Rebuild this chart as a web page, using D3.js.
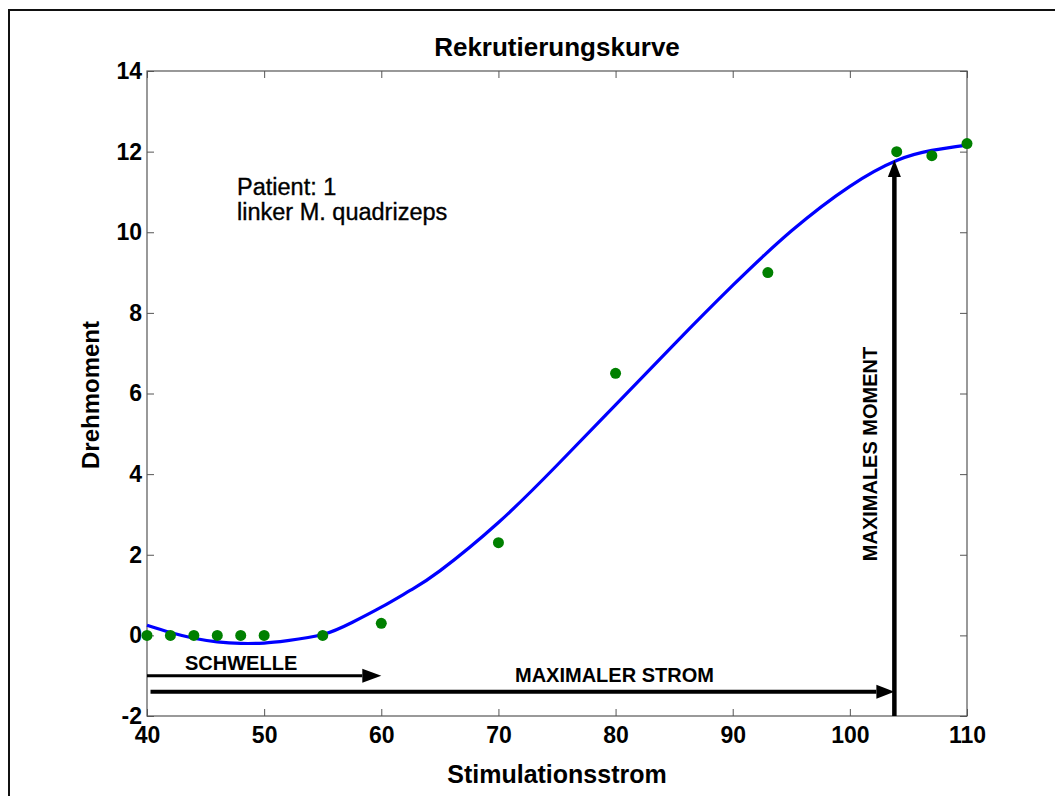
<!DOCTYPE html>
<html>
<head>
<meta charset="utf-8">
<script src="https://cdn.jsdelivr.net/npm/d3@7"></script>
<style>
  html, body { margin: 0; padding: 0; background: #fff; }
  svg { display: block; font-family: Arial, "Liberation Sans", Helvetica, sans-serif; }
</style>
</head>
<body>
<svg id="chart" width="1055" height="796"></svg>
<script>
// Measured stimulation currents and resulting torque
const stimX = [40, 42, 44, 46, 48, 50, 55, 60, 70, 80, 93, 104, 107, 110];
const torqueY = [0, 0, 0, 0, 0, 0, 0, 0.3, 2.3, 6.5, 9, 12, 11.9, 12.2];

// Fitted recruitment curve
const fitX = [40, 42, 44, 46, 48, 50, 52, 55, 57.5, 60, 62.5, 65, 70, 75, 80, 85, 90, 95, 100, 104, 107, 110];
const fitY = [0.25, 0.07, -0.07, -0.16, -0.2, -0.19, -0.13, 0.02, 0.32, 0.7, 1.12, 1.6, 2.8, 4.22, 5.72, 7.22, 8.68, 10.03, 11.14, 11.78, 12.03, 12.16];

// Axis ticks
const xTicks = [40, 50, 60, 70, 80, 90, 100, 110];
const yTicks = [-2, 0, 2, 4, 6, 8, 10, 12, 14];

// Annotation arrows: threshold, max current, max moment
const threshold = { x0: 40, x1: 60, y: -1 };
const maxCurrent = { x0: 40.3, x1: 103.8, y: -1.4 };
const maxMoment = { x: 103.8, y0: -2, y1: 11.79 };

const svg = d3.select("#chart");
const W = 1055, H = 796;
const m = { left: 147, top: 71, right: 967, bottom: 716 };

svg.append("rect").attr("width", W).attr("height", H).attr("fill", "#fff");
// figure frame
svg.append("rect").attr("x", 9).attr("y", 10).attr("width", 1200).attr("height", 1000)
  .attr("fill", "none").attr("stroke", "#111").attr("stroke-width", 2);

const x = d3.scaleLinear().domain([40, 110]).range([m.left, m.right]);
const y = d3.scaleLinear().domain([-2, 14]).range([m.bottom, m.top]);

const axisColor = "#555";
const tickLen = 7;
const plainNum = d => String(d);

// bottom axis with labels, ticks pointing inward
const gx = svg.append("g").attr("transform", `translate(0,${m.bottom})`)
  .call(d3.axisBottom(x).tickValues(xTicks).tickFormat(plainNum).tickSizeInner(-tickLen).tickSizeOuter(0));
// left axis
const gy = svg.append("g").attr("transform", `translate(${m.left},0)`)
  .call(d3.axisLeft(y).tickValues(yTicks).tickFormat(plainNum).tickSizeInner(-tickLen).tickSizeOuter(0));
// top and right axes: ticks only
const gt = svg.append("g").attr("transform", `translate(0,${m.top})`)
  .call(d3.axisTop(x).tickValues(xTicks).tickSizeInner(-tickLen).tickSizeOuter(0).tickFormat(""));
const gr = svg.append("g").attr("transform", `translate(${m.right},0)`)
  .call(d3.axisRight(y).tickValues(yTicks).tickSizeInner(-tickLen).tickSizeOuter(0).tickFormat(""));

[gx, gy, gt, gr].forEach(g => {
  g.select(".domain").remove();
  g.selectAll(".tick line").attr("stroke", axisColor).attr("stroke-width", 1);
  g.selectAll(".tick text").attr("fill", "#000").attr("font-size", 23).attr("font-weight", "bold")
    .attr("font-family", "Arial, 'Liberation Sans', sans-serif");
});
gx.selectAll(".tick text").attr("dy", "0.71em").attr("y", 11);
gy.selectAll(".tick text").attr("x", -5);

// plot box
svg.append("rect").attr("x", m.left).attr("y", m.top)
  .attr("width", m.right - m.left).attr("height", m.bottom - m.top)
  .attr("fill", "none").attr("stroke", axisColor).attr("stroke-width", 1.2);

// fitted curve
const fitData = fitX.map((v, i) => [v, fitY[i]]);
svg.append("path").datum(fitData)
  .attr("fill", "none").attr("stroke", "#0000ff").attr("stroke-width", 3.2)
  .attr("d", d3.line().x(d => x(d[0])).y(d => y(d[1])).curve(d3.curveNatural));

// measured points
svg.append("g").selectAll("circle").data(stimX.map((v, i) => [v, torqueY[i]])).join("circle")
  .attr("cx", d => x(d[0])).attr("cy", d => y(d[1])).attr("r", 5.5)
  .attr("fill", "#008000");

// arrows
function arrow(x1, y1, x2, y2, w, headLen, headHalf) {
  const ang = Math.atan2(y2 - y1, x2 - x1);
  const bx = x2 - headLen * Math.cos(ang), by = y2 - headLen * Math.sin(ang);
  svg.append("line").attr("x1", x1).attr("y1", y1).attr("x2", bx).attr("y2", by)
    .attr("stroke", "#000").attr("stroke-width", w);
  const px = -Math.sin(ang) * headHalf, py = Math.cos(ang) * headHalf;
  svg.append("path")
    .attr("d", `M${x2},${y2}L${bx + px},${by + py}L${bx - px},${by - py}Z`)
    .attr("fill", "#000");
}
arrow(x(threshold.x0), y(threshold.y), x(threshold.x1), y(threshold.y), 3, 19, 7);
arrow(x(maxCurrent.x0), y(maxCurrent.y), x(maxCurrent.x1), y(maxCurrent.y), 4, 18, 7);
arrow(x(maxMoment.x), y(maxMoment.y0), x(maxMoment.x), y(maxMoment.y1), 4.5, 17, 6.5);

// texts
svg.append("text").attr("x", 557).attr("y", 56).attr("text-anchor", "middle")
  .attr("font-size", 26).attr("font-weight", "bold").text("Rekrutierungskurve");
svg.append("text").attr("x", 557).attr("y", 783).attr("text-anchor", "middle")
  .attr("font-size", 25).attr("font-weight", "bold").text("Stimulationsstrom");
svg.append("text").attr("transform", "translate(99,395) rotate(-90)").attr("text-anchor", "middle")
  .attr("font-size", 24).attr("font-weight", "bold").text("Drehmoment");

svg.append("text").attr("x", 237).attr("y", 195).attr("font-size", 23.5)
  .attr("stroke", "#000").attr("stroke-width", 0.35).text("Patient: 1");
svg.append("text").attr("x", 237).attr("y", 220).attr("font-size", 23.5)
  .attr("stroke", "#000").attr("stroke-width", 0.35).text("linker M. quadrizeps");

svg.append("text").attr("x", 185).attr("y", 670).attr("font-size", 20).attr("font-weight", "bold").text("SCHWELLE");
svg.append("text").attr("x", 515).attr("y", 682).attr("font-size", 20).attr("font-weight", "bold").text("MAXIMALER STROM");
svg.append("text").attr("transform", "translate(877,454) rotate(-90)").attr("text-anchor", "middle")
  .attr("font-size", 20).attr("font-weight", "bold").text("MAXIMALES MOMENT");
</script>
</body>
</html>
